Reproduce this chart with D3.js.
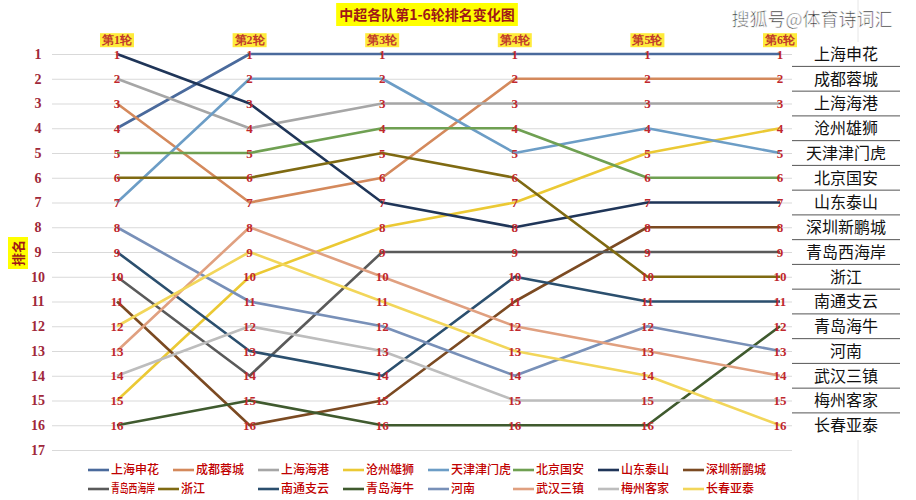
<!DOCTYPE html>
<html><head><meta charset="utf-8">
<script src="https://cdn.jsdelivr.net/npm/d3@7"></script>
<style>
html,body{margin:0;padding:0;background:#fff;}
svg{display:block;}
</style></head>
<body>
<svg id="chart" width="916" height="500"></svg>
<script>
const rounds = ["第1轮","第2轮","第3轮","第4轮","第5轮","第6轮"];
const teams = ["上海申花","成都蓉城","上海海港","沧州雄狮","天津津门虎","北京国安","山东泰山","深圳新鹏城",
               "青岛西海岸","浙江","南通支云","青岛海牛","河南","武汉三镇","梅州客家","长春亚泰"];
const ranks = [
  [4,1,1,1,1,1],      // 上海申花
  [3,7,6,2,2,2],      // 成都蓉城
  [2,4,3,3,3,3],      // 上海海港
  [15,10,8,7,5,4],    // 沧州雄狮
  [7,2,2,5,4,5],      // 天津津门虎
  [5,5,4,4,6,6],      // 北京国安
  [1,3,7,8,7,7],      // 山东泰山
  [11,16,15,11,8,8],  // 深圳新鹏城
  [10,14,9,9,9,9],    // 青岛西海岸
  [6,6,5,6,10,10],    // 浙江
  [9,13,14,10,11,11], // 南通支云
  [16,15,16,16,16,12],// 青岛海牛
  [8,11,12,14,12,13], // 河南
  [13,8,10,12,13,14], // 武汉三镇
  [14,12,13,15,15,15],// 梅州客家
  [12,9,11,13,14,16]  // 长春亚泰
];
const colors = ["#4A6A9C","#D4895C","#A6A6A6","#EBC934","#6C9DC6","#6FA052","#1F3558","#7B4A22",
                "#5A5A5A","#7F6A12","#2B4F6E","#3F5A2E","#7890B8","#E0A080","#BDBDBD","#F2D65A"];
const rankTicks = d3.range(1,18);
const finalOrder = ["上海申花","成都蓉城","上海海港","沧州雄狮","天津津门虎","北京国安","山东泰山","深圳新鹏城",
                    "青岛西海岸","浙江","南通支云","青岛海牛","河南","武汉三镇","梅州客家","长春亚泰"];
const titleText = "中超各队第1-6轮排名变化图";
const yTitle = "排名";
const watermark = "搜狐号@体育诗词汇";

const svg = d3.select("#chart");
const x = d3.scalePoint().domain(rounds).range([117, 780]);
const y = d3.scaleLinear().domain([1,17]).range([54, 450]);
const gridLeft = 52, gridRight = 792;

// gridlines + left axis
const yAxis = d3.axisLeft(y).tickValues(rankTicks).tickSize(-(gridRight-gridLeft)).tickPadding(0).tickFormat(d3.format("d"));
const ga = svg.append("g").attr("transform", `translate(${gridLeft},0)`).call(yAxis);
ga.select(".domain").remove();
ga.selectAll(".tick line").attr("stroke","#D9D9D9").attr("stroke-width",1.2);
ga.selectAll(".tick text").attr("x",-14).attr("text-anchor","middle")
  .attr("fill","#A0283A").attr("font-family","'Liberation Serif', serif").attr("font-weight","bold").attr("font-size",14);

// faint frame line
svg.append("line").attr("x1",858).attr("x2",858).attr("y1",0).attr("y2",500).attr("stroke","#E6E6E6");

// right table background + names
const tbl = svg.append("g");
tbl.append("rect").attr("x",792).attr("y",42).attr("width",110).attr("height",398).attr("fill","#fff");
finalOrder.forEach((t,i)=>{
  const r = i+1;
  tbl.append("text").attr("x",846).attr("y",y(r)).attr("dy","0.36em").attr("text-anchor","middle")
    .attr("font-family","'Noto Sans CJK SC', sans-serif").attr("font-size",16).attr("fill","#111").text(t);
  if (r < 16) tbl.append("line").attr("x1",792).attr("x2",900).attr("y1",y(r)+12.4).attr("y2",y(r)+12.4)
    .attr("stroke","#555").attr("stroke-width",1);
});

// lines
const line = d3.line().x((d,i)=>x(rounds[i])).y(d=>y(d));
svg.append("g").selectAll("path").data(ranks).join("path")
  .attr("d", d=>line(d)).attr("fill","none").attr("stroke",(d,i)=>colors[i]).attr("stroke-width",2.6)
  .attr("stroke-linejoin","round");

// point labels
const lg = svg.append("g");
ranks.forEach((row,ti)=>{
  row.forEach((v,ri)=>{
    lg.append("text").attr("x",x(rounds[ri])).attr("y",y(v)).attr("dy","0.35em").attr("text-anchor","middle")
      .attr("font-family","'Liberation Serif', serif").attr("font-weight","bold").attr("font-size",13)
      .attr("fill","#C0282D").text(v);
  });
});

// round labels
rounds.forEach(r=>{
  const g = svg.append("g");
  const t = g.append("text").attr("x",x(r)).attr("y",40).attr("dy","0.35em").attr("text-anchor","middle")
    .attr("font-family","'Liberation Serif', serif").attr("font-weight","bold").attr("font-size",12)
    .attr("fill","#C0392B").text(r);
  const bb = t.node().getBBox();
  g.insert("rect","text").attr("x",bb.x-1).attr("y",bb.y).attr("width",bb.width+2).attr("height",bb.height)
    .attr("fill","#FFEB3B");
});

// title
{
  const g = svg.append("g");
  const t = g.append("text").attr("x",427).attr("y",15).attr("dy","0.35em").attr("text-anchor","middle")
    .attr("font-family","'Noto Sans CJK SC', sans-serif").attr("font-weight","bold").attr("font-size",14)
    .attr("fill","#A01818").text(titleText);
  const bb = t.node().getBBox();
  g.insert("rect","text").attr("x",bb.x-3).attr("y",3).attr("width",bb.width+6).attr("height",23).attr("fill","#FFFF00");
}

// y title
{
  const g = svg.append("g").attr("transform","translate(18,253) rotate(-90)");
  g.append("rect").attr("x",-16).attr("y",-10).attr("width",32).attr("height",20).attr("fill","#FFFF00");
  g.append("text").attr("text-anchor","middle").attr("dy","0.35em")
    .attr("font-family","'Noto Sans CJK SC', sans-serif").attr("font-weight","bold").attr("font-size",13)
    .attr("fill","#A01818").text(yTitle);
}

// watermark
svg.append("text").attr("x",812).attr("y",20).attr("dy","0.35em").attr("text-anchor","middle")
  .attr("font-family","'Noto Sans CJK SC', sans-serif").attr("font-size",18).attr("fill","#333")
  .attr("stroke","#fff").attr("stroke-width",0.6).text(watermark);

// legend
const leg = svg.append("g");
teams.forEach((t,i)=>{
  const row = Math.floor(i/8), col = i%8;
  let lx = 88 + col*85;
  if (row===1 && col===1) lx = 158;
  const ly = row===0 ? 470 : 489;
  leg.append("line").attr("x1",lx).attr("x2",lx+21).attr("y1",ly).attr("y2",ly)
    .attr("stroke",colors[i]).attr("stroke-width",2.6);
  const tx = leg.append("text").attr("x",lx+23).attr("y",ly).attr("dy","0.35em")
    .attr("font-family","'Noto Sans CJK SC', sans-serif").attr("font-size",12).attr("font-weight","500")
    .attr("fill","#C00000").text(t);
  if (row===1 && col===0) tx.attr("textLength",44).attr("lengthAdjust","spacingAndGlyphs");
});
</script>
</body></html>
